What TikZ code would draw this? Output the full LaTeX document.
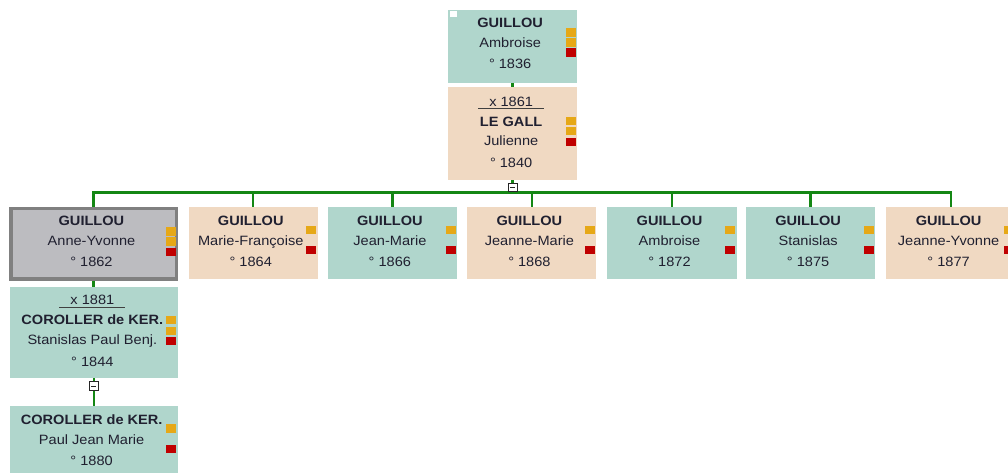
\documentclass[tikz,border=0pt]{standalone}
\usepackage{fontspec}
\setmainfont{Liberation Sans}[FakeStretch=1.08]
\usetikzlibrary{calc}
\definecolor{boxteal}{RGB}{176,214,204}
\definecolor{boxpeach}{RGB}{240,217,194}
\definecolor{boxgray}{RGB}{188,188,192}
\definecolor{boxborder}{RGB}{128,128,128}
\definecolor{lineg}{RGB}{20,135,20}
\definecolor{sqo}{RGB}{230,168,23}
\definecolor{sqr}{RGB}{192,0,0}
\definecolor{txtc}{RGB}{32,32,48}
\newcommand\ulx[1]{\makebox[66pt]{#1}\llap{\textcolor{black!75}{\rule[-2.6pt]{66pt}{0.9pt}}}}
\newcommand\sqmark[4]{\fill[#4] ($(#1.north east)+(#2,#3)$) rectangle ++(10,8.3);}
\begin{document}
\begin{tikzpicture}[x=1pt,y=-1pt,
  pbox/.style={rectangle,inner sep=0pt,outer sep=0pt,minimum width=129.3pt,minimum height=72.6pt},
  male/.style={pbox,fill=boxteal},
  female/.style={pbox,fill=boxpeach},
  sel/.style={rectangle,inner sep=0pt,fill=boxgray,draw=boxborder,line width=3.5pt,minimum width=165.8pt,minimum height=70.5pt},
  txt/.style={anchor=north,inner sep=0pt,align=center,text=txtc,font=\fontsize{13.5}{19.8}\selectfont},
  conn/.style={draw=lineg,line width=2.5pt},
  minus/.style={rectangle,draw=black!85,fill=white,line width=0.8pt,minimum width=8.5pt,minimum height=8.5pt,inner sep=0pt}
]
\clip (0,0) rectangle (1008,472);
\fill[white] (0,0) rectangle (1008,472);
% parents
\node[male] (T) at (512.65,46.2) {};
\fill[white] ($(T.north west)+(2,1)$) rectangle ++(6.5,5.6);
\node[female,minimum height=93pt] (S) at (512.65,133.8) {};
% children
\node[sel] (c1) at (93.65,243.7) {};
\node[female] (c2) at (253.15,243) {};
\node[male] (c3) at (392.3,243) {};
\node[female] (c4) at (531.8,243) {};
\node[male] (c5) at (671.9,243) {};
\node[male] (c6) at (810.5,243) {};
\node[female] (c7) at (951,243) {};
% spouse and grandchild
\node[male,minimum width=167.7pt,minimum height=91.3pt] (s2) at (93.85,332.35) {};
\node[male,minimum width=167.7pt] (p1) at (93.85,442) {};
% texts
\node[txt] (Tt) at ($(T.north)+(-2.5,8.3)$) {\textbf{GUILLOU}\\Ambroise\\[1.5pt]° 1836};
\node[txt] (St) at ($(S.north)+(-1.5,9.4)$) {\ulx{x 1861}\\\textbf{LE GALL}\\Julienne\\[2pt]° 1840};
\node[txt] (c1t) at ($(c1.north)+(-2.2,9.3)$) {\textbf{GUILLOU}\\Anne-Yvonne\\[1.5pt]° 1862};
\node[txt] (c2t) at ($(c2.north)+(-2.4,9.3)$) {\textbf{GUILLOU}\\Marie-Françoise\\[1.5pt]° 1864};
\node[txt] (c3t) at ($(c3.north)+(-2.4,9.3)$) {\textbf{GUILLOU}\\Jean-Marie\\[1.5pt]° 1866};
\node[txt] (c4t) at ($(c4.north)+(-2.4,9.3)$) {\textbf{GUILLOU}\\Jeanne-Marie\\[1.5pt]° 1868};
\node[txt] (c5t) at ($(c5.north)+(-2.4,9.3)$) {\textbf{GUILLOU}\\Ambroise\\[1.5pt]° 1872};
\node[txt] (c6t) at ($(c6.north)+(-2.4,9.3)$) {\textbf{GUILLOU}\\Stanislas\\[1.5pt]° 1875};
\node[txt] (c7t) at ($(c7.north)+(-2.4,9.3)$) {\textbf{GUILLOU}\\Jeanne-Yvonne\\[1.5pt]° 1877};
\node[txt] (s2t) at ($(s2.north)+(-1.5,8.5)$) {\ulx{x 1881}\\\textbf{COROLLER de KER.}\\Stanislas Paul Benj.\\[2.5pt]° 1844};
\node[txt] (p1t) at ($(p1.north)+(-2.2,8.6)$) {\textbf{COROLLER de KER.}\\Paul Jean Marie\\[1.5pt]° 1880};
% marks
\sqmark{T}{-11.6}{18.3}{sqo}\sqmark{T}{-11.6}{28.3}{sqo}\sqmark{T}{-11.6}{38.3}{sqr}
\sqmark{S}{-11.6}{29.4}{sqo}\sqmark{S}{-11.6}{39.4}{sqo}\sqmark{S}{-11.6}{50.3}{sqr}
\sqmark{c1}{-12.6}{20.6}{sqo}\sqmark{c1}{-12.6}{30.6}{sqo}\sqmark{c1}{-12.6}{41}{sqr}
\foreach \c in {c2,c3,c4,c5,c6,c7}{\sqmark{\c}{-11.4}{19}{sqo}\sqmark{\c}{-11.4}{39.3}{sqr}}
\sqmark{s2}{-12}{29.3}{sqo}\sqmark{s2}{-12}{40}{sqo}\sqmark{s2}{-12}{50}{sqr}
\sqmark{p1}{-12}{18.6}{sqo}\sqmark{p1}{-12}{39.3}{sqr}
% connectors
\coordinate (bar) at (0,192.3);
\draw[conn] (T.south) -- (S.north);
\draw[conn] (S.south) -- (S.south |- bar);
\draw[conn] (c1.north) -- (c1.north |- bar) -| (c7.north);
\foreach \c in {c2,c3,c4,c5,c6}{\draw[conn] (\c.north) -- (\c.north |- bar);}
\draw[conn] (c1.south) -- (c1.south |- s2.north);
\draw[conn] (s2.south) -- (s2.south |- p1.north);
% collapse markers
\node[minus] (m1) at (512.8,187.6) {};
\draw[line width=0.8pt,black!85] ($(m1.center)+(-2.4,0)$) -- ($(m1.center)+(2.4,0)$);
\node[minus,minimum height=9.5pt] (m2) at (93.7,386) {};
\draw[line width=0.8pt,black!85] ($(m2.center)+(-2.4,0)$) -- ($(m2.center)+(2.4,0)$);
\end{tikzpicture}
\end{document}
